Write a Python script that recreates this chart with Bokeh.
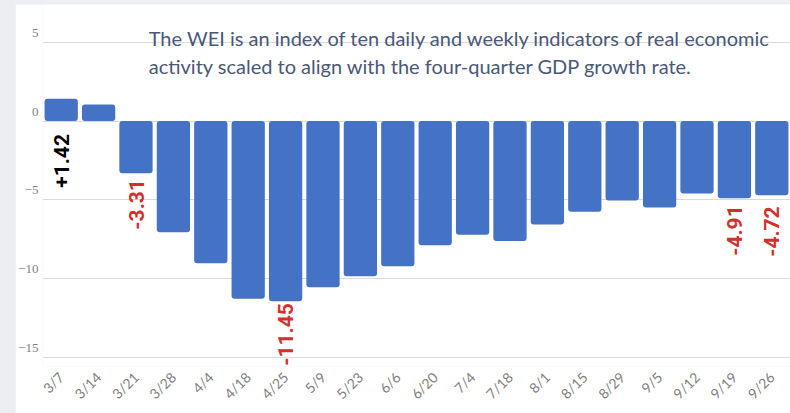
import math
from bokeh.plotting import figure
from bokeh.models import ColumnDataSource, FixedTicker, Range1d, LinearAxis, Label
from bokeh.core.properties import value
from bokeh.embed import file_html
from bokeh.resources import INLINE

# ---- data ----
weeks = ["3/7", "3/14", "3/21", "3/28", "4/4", "4/18", "4/25", "5/9", "5/23", "6/6",
         "6/20", "7/4", "7/18", "8/1", "8/15", "8/29", "9/5", "9/12", "9/19", "9/26"]
wei = [1.42, 1.06, -3.31, -7.06, -9.03, -11.30, -11.45, -10.56, -9.86, -9.22,
       -7.89, -7.23, -7.63, -6.57, -5.77, -5.05, -5.49, -4.60, -4.91, -4.72]
labeled_weeks = ["3/7", "3/21", "4/25", "9/19", "9/26"]
y_ticks = [5, 0, -5, -10, -15]
note_lines = ["The WEI is an index of ten daily and weekly indicators of real economic",
              "activity scaled to align with the four-quarter GDP growth rate."]

# ---- styles ----
BAR = "#4472C4"
RED = "#D0312D"
GRID = "#DADADA"
TICK = "#7F7F7F"
NOTE = "#4A5879"
PAGE_BG = "#EDEEF2"

Y0, Y1 = -15.6, 7.41
LAB_SHIFT = 0.6

p = figure(x_range=weeks, y_range=(Y0, Y1), width=775, height=409,
           output_backend="svg", toolbar_location=None,
           min_border_left=20, min_border_right=0, min_border_top=0, min_border_bottom=47,
           background_fill_color="white", border_fill_color="white")
p.outline_line_color = None
p.margin = (4, 0, 0, 15)

p.vbar(x=weeks, top=wei, bottom=0, width=0.89, fill_color=BAR, line_color=None,
       border_radius=3)

# value labels
lab_vals = [wei[weeks.index(w)] for w in labeled_weeks]
lab_txt = [f"{v:+.2f}" for v in lab_vals]
lab_col = ["black" if v > 0 else RED for v in lab_vals]
lab_y = [min(v, 0) for v in lab_vals]
lab_off = [13, 6, 2, 7, 11]
src = ColumnDataSource(dict(x=labeled_weeks, y=lab_y, t=lab_txt, c=lab_col, o=lab_off))
p.text(x="x", y="y", text="t", text_color="c", y_offset="o", angle=math.pi / 2,
       text_align="right", text_baseline="middle", text_font=value("Roboto"),
       text_font_size="21px", text_font_style="bold", source=src)

# grid
p.ygrid.ticker = FixedTicker(ticks=y_ticks)
p.ygrid.grid_line_color = GRID
p.ygrid.grid_line_width = 1
p.xgrid.grid_line_color = None

# main y axis hidden; shifted label axis
p.yaxis.visible = False
p.extra_y_ranges = {"lab": Range1d(start=Y0 - LAB_SHIFT, end=Y1 - LAB_SHIFT)}
ax = LinearAxis(y_range_name="lab", ticker=FixedTicker(ticks=y_ticks))
ax.axis_line_color = None
ax.major_tick_line_color = None
ax.minor_tick_line_color = None
ax.major_tick_out = 0
ax.major_tick_in = 0
ax.minor_tick_out = 0
ax.minor_tick_in = 0
ax.major_label_text_font = "Liberation Serif"
ax.major_label_text_font_size = "13px"
ax.major_label_text_color = TICK
ax.major_label_standoff = 4
p.add_layout(ax, "left")

# x axis
xa = p.xaxis[0]
xa.axis_line_color = None
xa.major_tick_line_color = None
xa.minor_tick_line_color = None
xa.major_tick_out = 0
xa.major_tick_in = 0
xa.major_label_orientation = math.pi / 4
xa.major_label_text_font = "Lato"
xa.major_label_text_font_size = "14px"
xa.major_label_text_color = TICK
xa.major_label_standoff = 8

# note text
for line, yy in zip(note_lines, [5.31, 3.50]):
    p.add_layout(Label(x=2.84, y=yy, text=line, text_font="Lato", text_font_size="20px",
                       text_color=NOTE, text_baseline="alphabetic", text_align="left"))

html = file_html(p, INLINE)
html = html.replace("padding: 0;", f"padding: 0;\n        background-color: {PAGE_BG};", 1)
open("out.html", "w").write(html)
